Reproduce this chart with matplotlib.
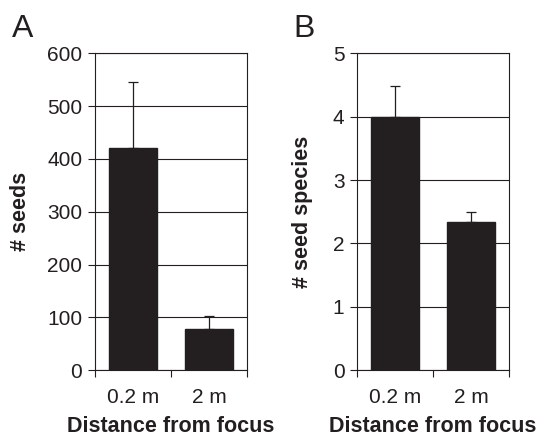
#!/usr/bin/env python3
"""Seed counts and seed species by distance from focus (two panels)."""
import matplotlib.pyplot as plt
from matplotlib.ticker import FixedLocator

plt.rcParams['font.family'] = ['Liberation Sans', 'DejaVu Sans']

categories = ['0.2 m', '2 m']
seeds = [420, 77]
seeds_err = [125, 26]
species = [4.0, 2.33]
species_err = [0.48, 0.17]

BAR = '#231f20'
INK = '#231f20'


def panel(ax, values, errors, ylim, step, ylabel, label_x):
    x = list(range(len(categories)))
    ax.set_axisbelow(True)
    ax.yaxis.grid(True, color=INK, lw=0.8)
    ax.bar(x, values, width=0.63, color=BAR, edgecolor=BAR, zorder=2)
    ax.errorbar(x, values, yerr=[[0] * len(errors), errors], fmt='none',
                ecolor=INK, elinewidth=0.9, capsize=3.3, capthick=0.9,
                zorder=3)
    ax.set_xlim(-0.5, len(categories) - 0.5)
    ax.set_ylim(*ylim)
    ax.set_yticks([ylim[0] + i * step
                   for i in range(int(round((ylim[1] - ylim[0]) / step)) + 1)])
    ax.xaxis.set_major_locator(FixedLocator([i - 0.5 for i in range(len(categories) + 1)]))
    ax.xaxis.set_major_formatter(plt.NullFormatter())
    ax.xaxis.set_minor_locator(FixedLocator(x))
    ax.set_xticklabels(categories, minor=True)
    ax.tick_params(axis='x', which='major', direction='out', length=5,
                   width=0.8, color=INK)
    ax.tick_params(axis='x', which='minor', length=0, pad=13,
                   labelsize=15, labelcolor=INK)
    ax.tick_params(axis='y', direction='out', length=5, width=0.8,
                   color=INK, labelsize=15, labelcolor=INK, pad=4)
    for s in ax.spines.values():
        s.set_color(INK)
        s.set_linewidth(0.8)
    ax.set_xlabel('Distance from focus', fontsize=15.5, fontweight='bold',
                  color=INK, labelpad=6)
    ax.set_ylabel(ylabel, fontsize=15.5, fontweight='bold', color=INK)
    ax.yaxis.set_label_coords(label_x, 0.5)


fig = plt.figure(figsize=(5.36, 4.37), dpi=100)
ax_a = fig.add_axes([0.177, 0.153, 0.284, 0.725])
ax_b = fig.add_axes([0.666, 0.153, 0.284, 0.725])

panel(ax_a, seeds, seeds_err, (0, 600), 100, '# seeds', -0.42)
panel(ax_b, species, species_err, (0, 5), 1, '# seed species', -0.29)

fig.text(0.022, 0.915, 'A', fontsize=23, color=INK, va='baseline')
fig.text(0.547, 0.915, 'B', fontsize=23, color=INK, va='baseline')

fig.savefig('out.png', dpi=100)
